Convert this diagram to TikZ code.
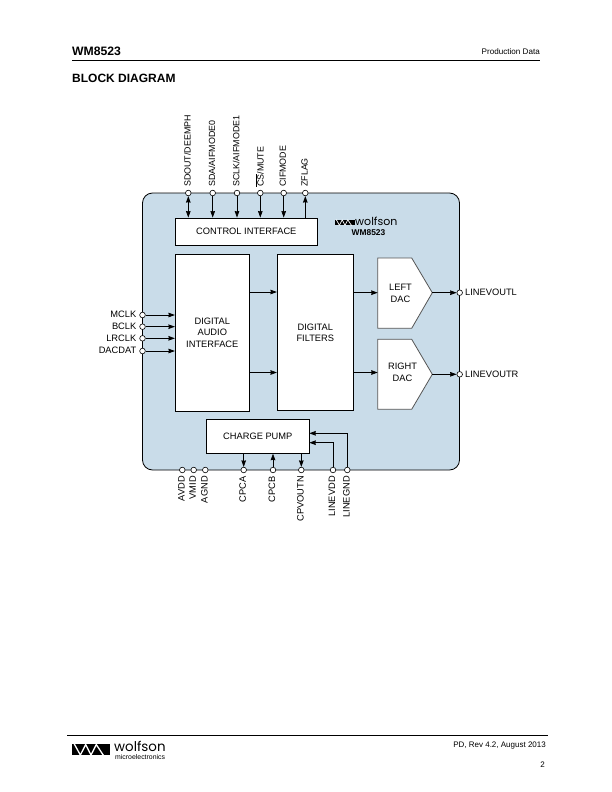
\documentclass[tikz,border=0pt]{standalone}
\usepackage{fontspec}
\setmainfont{Liberation Sans}
\newfontfamily\logofont{Poppins}
\usetikzlibrary{arrows.meta}
\definecolor{chipblue}{HTML}{C9DCE9}
\definecolor{dacedge}{HTML}{555555}
\tikzset{
  sig/.style={line width=0.7pt,draw=black},
  tip/.tip={Stealth[length=6.5pt,width=4.6pt,inset=0.5pt]},
  head/.style={-tip},
  blockbox/.style={draw=black,line width=0.8pt,fill=white,inner sep=0pt,align=center,font=\fontsize{9.3}{11.6}\selectfont},
  pin/.style={circle,draw=black,line width=0.6pt,fill=white,inner sep=0pt,minimum size=5.6pt},
  pinlabel/.style={inner sep=0pt,font=\fontsize{9.3}{10}\selectfont},
  toplabel/.style={inner sep=0pt,font=\fontsize{8.9}{10}\selectfont},
  dacshape/.style={draw=dacedge,line width=0.8pt,fill=white,line join=miter},
  daclabel/.style={inner sep=0pt,align=center,font=\fontsize{9.3}{11.6}\selectfont},
  rule/.style={line width=0.9pt,draw=black}
}
% Company mark: dark bar with a white wave
\newcommand{\wavebar}[5]{% x, y, width, height, line width
  \begin{scope}[shift={(#1,#2)},x=#3pt,y=-#4pt]
    \fill[black] (0,0) rectangle (1,1);
    \draw[white,line width=#5pt,line join=round]
      (0.06,0) -- (0.22,1) -- (0.36,0.05) -- (0.50,1) -- (0.64,0.05) -- (0.82,1) -- (0.84,1);
  \end{scope}}
\begin{document}
\begin{tikzpicture}[x=1pt,y=-1pt]
\useasboundingbox (0,0) rectangle (612,792);
\fill[white] (0,0) rectangle (612,792);

% page header
\coordinate (hl) at (72,60); \coordinate (hr) at (540,60);
\draw[rule] (hl) -- (hr);
\node[anchor=base west,inner sep=0pt,font=\fontsize{12.2}{14}\selectfont\bfseries] (part) at (72,55.5) {WM8523};
\node[anchor=base east,inner sep=0pt,font=\fontsize{8.1}{9}\selectfont] (status) at (540,55) {Production Data};
\node[anchor=base west,inner sep=0pt,font=\fontsize{12}{14}\selectfont\bfseries] (title) at (72,82) {BLOCK DIAGRAM};

% device body
\draw[black,fill=chipblue,line width=0.8pt,rounded corners=10pt] (142.5,193) rectangle (459.5,470);

% function blocks
\node[blockbox,minimum width=142pt,minimum height=27.3pt] (ctrl) at (246.3,231.6) {CONTROL INTERFACE};
\node[blockbox,minimum width=74pt,minimum height=157.3pt] (dai) at (212.3,332.7) {DIGITAL\\AUDIO\\INTERFACE};
\node[blockbox,minimum width=76pt,minimum height=155.8pt] (filt) at (315.3,332.7) {DIGITAL\\FILTERS};
\node[blockbox,minimum width=103pt,minimum height=34pt] (pump) at (257.8,436.3) {CHARGE PUMP};

% converters
\draw[dacshape] (377.7,258) -- (411.7,258) -- (432.3,292.7) -- (411.7,328.3) -- (377.7,328.3) -- cycle;
\draw[dacshape] (377.7,339.3) -- (411.7,339.3) -- (432.3,374.3) -- (411.7,409.3) -- (377.7,409.3) -- cycle;
\coordinate (ldacin) at (377.7,292.7); \coordinate (ldacout) at (432.3,292.7);
\coordinate (rdacin) at (377.7,372.5); \coordinate (rdacout) at (432.3,374.3);
\node[daclabel] (ldac) at (400.5,293.5) {LEFT\\DAC};
\node[daclabel] (rdac) at (402.5,372.5) {RIGHT\\DAC};

% device mark inside the body
\wavebar{335}{219.5}{20}{5.8}{0.7}
\node[anchor=base west,inner sep=0pt,font=\fontsize{11}{11}\selectfont\logofont] (mark) at (355,225.8) {wolfson};
\node[inner sep=0pt,font=\fontsize{8.4}{9}\selectfont\bfseries] (markpart) at (368.5,232.5) {WM8523};

% control pins on the top edge
\foreach \n/\x/\t in {sdout/188.3/{SDOUT/DEEMPH},sda/212.7/{SDA/AIFMODE0},sclk/237/{SCLK/AIFMODE1},cs/260.3/{$\overline{\mbox{CS}}$/MUTE},cif/283.7/{CIFMODE},zflag/305.3/{ZFLAG}}{
  \node[pin] (\n) at (\x,193) {};
  \node[toplabel,rotate=90,anchor=west] (\n l) at (\x-0.8,187) {\t};
}
\draw[sig,tip-tip] (sdout.south) -- (sdout |- ctrl.north);
\foreach \n in {sda,sclk,cs,cif}
  \draw[sig,head] (\n.south) -- (\n |- ctrl.north);
\draw[sig,head] (zflag |- ctrl.north) -- (zflag.south);

% audio interface pins on the left edge
\foreach \n/\y/\t in {mclk/315/MCLK,bclk/326.7/BCLK,lrclk/338.3/LRCLK,dacdat/351/DACDAT}{
  \node[pin] (\n) at (142.5,\y) {};
  \node[pinlabel,anchor=east] (\n l) at (136.5,\y-0.3) {\t};
  \draw[sig,head] (\n.east) -- (\n -| dai.west);
}

% signal path through the filters to the outputs
\coordinate (path1) at (249.3,292); \coordinate (path2) at (249.3,372.5);
\coordinate (filt1) at (353.3,292.7); \coordinate (filt2) at (353.3,372.5);
\draw[sig,head] (path1) -- (path1 -| filt.west);
\draw[sig,head] (path2) -- (path2 -| filt.west);
\draw[sig,head] (filt1) -- (ldacin);
\draw[sig,head] (filt2) -- (rdacin);
\node[pin] (outl) at (459.7,292.7) {};
\node[pin] (outr) at (459.7,374.3) {};
\node[pinlabel,anchor=west] (outll) at (465,292.7) {LINEVOUTL};
\node[pinlabel,anchor=west] (outrl) at (465,374.3) {LINEVOUTR};
\draw[sig,head] (ldacout) -- (outl.west);
\draw[sig,head] (rdacout) -- (outr.west);

% supply and pump pins on the bottom edge
\foreach \n/\x/\t in {avdd/182.3/AVDD,vmid/193.7/VMID,agnd/205.3/AGND,cpca/243.7/CPCA,cpcb/273/CPCB,cpvoutn/301.3/CPVOUTN,linevdd/333/LINEVDD,linegnd/347.3/LINEGND}{
  \node[pin] (\n) at (\x,470) {};
  \node[pinlabel,rotate=90,anchor=east] (\n l) at (\x-1,476) {\t};
}
\draw[sig,head] (cpca |- pump.south) -- (cpca.north);
\draw[sig,head] (cpcb.north) -- (cpcb |- pump.south);
\draw[sig,head] (cpvoutn |- pump.south) -- (cpvoutn.north);
\coordinate (pumpvdd) at (309.3,442.7); \coordinate (pumpgnd) at (309.3,433.3);
\draw[sig,head] (linevdd.north) |- (pumpvdd);
\draw[sig,head] (linegnd.north) |- (pumpgnd);

% page footer
\coordinate (fl) at (67,735); \coordinate (fr) at (548,735);
\draw[rule] (fl) -- (fr);
\wavebar{72}{744}{38}{11}{1.3}
\node[anchor=base west,inner sep=0pt,font=\fontsize{13.4}{15}\selectfont\logofont] (flogo) at (114,751) {wolfson};
\node[anchor=base west,inner sep=0pt,font=\fontsize{6.9}{7}\selectfont] (fsub) at (115,759) {microelectronics};
\node[anchor=base east,inner sep=0pt,font=\fontsize{8}{9}\selectfont] (rev) at (546,747) {PD, Rev 4.2, August 2013};
\node[anchor=base east,inner sep=0pt,font=\fontsize{8}{9}\selectfont] (page) at (545,767) {2};
\end{tikzpicture}
\end{document}
